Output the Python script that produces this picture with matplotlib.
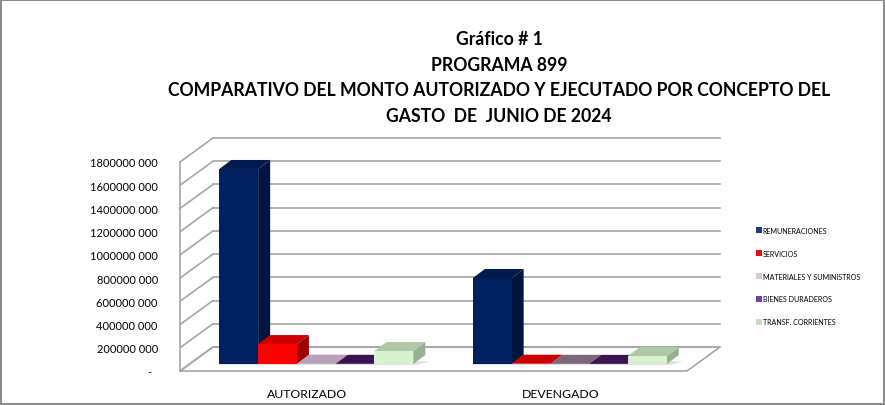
import numpy as np
import matplotlib
matplotlib.use('Agg')
import matplotlib.pyplot as plt
from matplotlib.patches import Polygon, Patch

plt.rcParams['font.family'] = ['Lato', 'DejaVu Sans']

# Datos
categorias = ['AUTORIZADO', 'DEVENGADO']
conceptos = ['REMUNERACIONES', 'SERVICIOS', 'MATERIALES Y SUMINISTROS',
             'BIENES DURADEROS', 'TRANSF. CORRIENTES']
autorizado = [1680000000, 172000000, 3000000, 2000000, 112000000]
devengado = [741000000, 3000000, 2000000, 1500000, 69000000]
valores = [autorizado, devengado]

y_ticks = [0, 200000000, 400000000, 600000000, 800000000, 1000000000,
           1200000000, 1400000000, 1600000000, 1800000000]
y_labels = ['-  ', '200000 000', '400000 000', '600000 000', '800000 000',
            '1000000 000', '1200000 000', '1400000 000', '1600000 000',
            '1800000 000']

titulo = ('Gráfico # 1\nPROGRAMA 899\n'
          'COMPARATIVO DEL MONTO AUTORIZADO Y EJECUTADO POR CONCEPTO DEL\n'
          'GASTO  DE  JUNIO DE 2024')

# colores: frente, lado, arriba
colores = [('#002060', '#001540', '#001a4e'),
           ('#ff0000', '#a00000', '#cc0000'),
           ('#c8b0c8', '#8c748c', '#b8a0b8'),
           ('#6a3a9a', '#2a0c40', '#3a1450'),
           ('#d8f2d0', '#98b090', '#b0c8a8')]
colores_leyenda = ['#1f3a80', '#e01010', '#d8c8dc', '#7040a0', '#c8dcc0']

W, H = 885, 406
fig = plt.figure(figsize=(W / 100, H / 100), dpi=100)
fig.patch.set_facecolor('white')
fig.patch.set_edgecolor('#8c8c8c')
fig.patch.set_linewidth(1.5)

# plano frontal del gráfico 3D (pixeles)
px_left, px_right, px_bottom, px_top = 180, 687, 372, 163
ax = fig.add_axes([px_left / W, (H - px_bottom) / H,
                   (px_right - px_left) / W, (px_bottom - px_top) / H])
ymax = 1800000000
ax.set_xlim(-0.5, 1.5)
ax.set_ylim(0, ymax)
for s in ax.spines.values():
    s.set_visible(False)

px_x = (px_right - px_left) / 2.0
px_y = (px_bottom - px_top) / ymax
# profundidad del fondo (pixeles -> datos)
ddx = 33 / px_x
ddy = 24 / px_y
grid_c = '#a6a6a6'

# piso
piso = Polygon([(-0.5, 0), (1.5, 0), (1.5 + ddx, ddy), (-0.5 + ddx, ddy)],
               closed=True, facecolor='white', edgecolor=grid_c, lw=1.2,
               zorder=0.5, clip_on=False)
ax.add_patch(piso)
# pared izquierda y pared del fondo
ax.plot([-0.5, -0.5], [0, ymax], color=grid_c, lw=1.2, clip_on=False, zorder=1)
for v in y_ticks:
    ax.plot([-0.5, -0.5 + ddx], [v, v + ddy], color=grid_c, lw=1.2,
            clip_on=False, zorder=1)
    ax.plot([-0.5 + ddx, 1.5 + ddx], [v + ddy, v + ddy], color=grid_c, lw=1.2,
            clip_on=False, zorder=1)

# barras
w = 0.153
fx, fy = 0.29 * ddx, 0.29 * ddy
bx, by = 12 / px_x, 9 / px_y
x = np.arange(len(categorias))
for j in range(len(conceptos)):
    vals = [valores[i][j] for i in range(len(categorias))]
    xc = x + (j - 2) * w + fx
    front, side, top = colores[j]
    for i, (xi, v) in enumerate(zip(xc, vals)):
        x0, x1 = xi - w / 2, xi + w / 2
        y0, y1 = fy, fy + v
        top_i = '#7a6878' if (j == 2 and i == 1) else top
        # sombra
        ax.add_patch(Polygon([(x0 - 0.01, y0 - 0.004 * ymax), (x1 + 0.01, y0 - 0.004 * ymax),
                              (x1 + bx + 0.02, y0 + by * 0.3), (x0 + bx, y0 + by * 0.3)],
                             closed=True, facecolor='#dedede', edgecolor='none',
                             zorder=1.5, clip_on=False))
        ax.add_patch(Polygon([(x1, y0), (x1 + bx, y0 + by), (x1 + bx, y1 + by), (x1, y1)],
                             closed=True, facecolor=side, edgecolor='none',
                             zorder=3 + j, clip_on=False))
        ax.add_patch(Polygon([(x0, y1), (x1, y1), (x1 + bx, y1 + by), (x0 + bx, y1 + by)],
                             closed=True, facecolor=top_i, edgecolor='none',
                             zorder=3 + j, clip_on=False))
    ax.bar(xc, vals, width=w, bottom=fy, color=front, zorder=3.1 + j, clip_on=False)

ax.set_yticks(y_ticks)
ax.set_yticklabels(y_labels, fontsize=8.0)
ax.set_xticks(x)
ax.set_xticklabels(categorias, fontsize=8.8)
ax.tick_params(axis='y', length=0, pad=16)
ax.tick_params(axis='x', length=0, pad=12)

fig.text(499 / W, 1 - 78 / H, titulo, ha='center', va='center',
         fontsize=12.7, fontweight='bold', linespacing=1.6)

handles = [Patch(facecolor=c, edgecolor='none') for c in colores_leyenda]
fig.legend(handles, conceptos, loc='center left', bbox_to_anchor=(752 / W, 1 - 277 / H),
           frameon=False, fontsize=5.1, handlelength=0.85, handleheight=0.85,
           handletextpad=0.15, labelspacing=2.25, borderpad=0)

fig.savefig('out.png', dpi=100)
